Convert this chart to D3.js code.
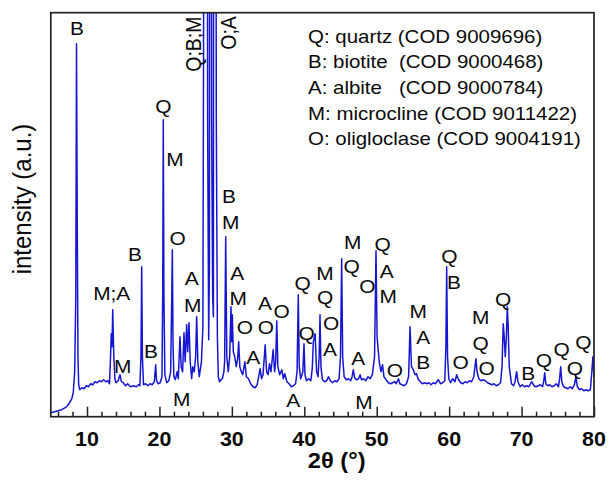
<!DOCTYPE html>
<html lang="en">
    <head>
        <meta charset="utf-8">
        <title>XRD pattern</title>
        <script type="text/javascript" src="https://cdn.jsdelivr.net/npm/d3@7"></script>
        <style type="text/css">
            body { margin: 0; background: #fff; }
            text { font-family: "Liberation Sans", Arial, sans-serif; fill: #0a0a0a; white-space: pre; }
        </style>
    </head>

    <body>
        <script type="text/javascript">
            // Diffraction pattern, [2theta, intensity]
            var xrdPattern = [
                [5.0,4],[5.5,5],[6.0,6],[6.5,7],[7.0,9],[7.3,11],[7.6,14],[7.9,18],[8.1,24],[8.3,45],
                [8.45,120],[8.55,373],[8.65,200],[8.75,60],[8.85,32],[9.0,27],[9.3,29],[9.6,28],[9.9,31],[10.2,30],
                [10.5,33],[10.8,32],[11.1,35],[11.4,34],[11.7,36],[12.0,35],[12.3,37],[12.6,35],[12.9,36],[13.1,33],
                [13.25,60],[13.35,83],[13.45,70],[13.55,107],[13.7,60],[13.85,38],[14.0,34],[14.3,36],[14.55,42],[14.75,35],
                [15.0,34],[15.3,31],[15.6,33],[16.0,30],[16.4,31],[16.8,30],[17.1,32],[17.3,31],[17.45,60],[17.55,150],
                [17.65,60],[17.8,32],[18.1,33],[18.4,31],[18.7,33],[19.0,32],[19.3,35],[19.48,52],[19.6,36],[19.8,33],
                [20.1,34],[20.35,40],[20.45,120],[20.53,297],[20.62,120],[20.75,42],[21.0,34],[21.3,36],[21.55,45],[21.7,120],
                [21.78,167],[21.88,70],[22.0,40],[22.2,37],[22.45,45],[22.6,38],[22.84,80],[23.0,50],[23.2,45],[23.39,84],
                [23.55,55],[23.76,92],[23.9,65],[24.08,94],[24.25,55],[24.45,38],[24.6,50],[24.8,45],[25.0,60],[25.14,100],
                [25.3,55],[25.5,40],[25.8,55],[26.0,90],[26.1,400],[26.2,2000],[26.3,600],[26.4,2000],[26.5,2000],[26.65,300],[26.8,77],
                [26.9,150],[27.0,1500],[27.08,700],[27.15,1500],[27.2,303],[27.35,120],[27.45,100],[27.55,1500],[27.62,800],[27.7,1200],[27.85,300],[28.0,80],
                [28.13,40],[28.3,35],[28.5,37],[28.7,38],[28.9,45],[29.0,55],[29.15,180],[29.3,60],[29.5,45],[29.7,60],
                [29.88,110],[29.98,75],[30.06,102],[30.2,65],[30.4,60],[30.6,50],[30.8,58],[30.94,75],[31.1,50],[31.3,45],
                [31.5,42],[31.8,55],[32.0,40],[32.3,38],[32.6,33],[32.9,30],[33.2,29],[33.5,32],[33.9,48],[34.1,38],
                [34.3,42],[34.6,72],[34.8,45],[35.0,42],[35.2,53],[35.4,45],[35.7,67],[35.9,45],[36.05,55],[36.2,96],
                [36.35,50],[36.6,42],[36.9,47],[37.1,38],[37.3,43],[37.6,35],[37.9,33],[38.2,30],[38.5,31],[38.8,33],
                [39.0,45],[39.17,122],[39.3,50],[39.5,38],[39.8,45],[39.96,73],[40.1,42],[40.3,36],[40.6,38],[40.9,36],
                [41.1,48],[41.25,75],[41.5,83],[41.7,45],[41.9,40],[42.05,60],[42.17,102],[42.3,50],[42.5,37],[42.8,35],
                [43.1,36],[43.33,40],[43.6,36],[43.9,34],[44.2,36],[44.5,35],[44.8,38],[45.0,60],[45.16,158],[45.3,60],
                [45.5,40],[45.8,37],[46.1,38],[46.4,36],[46.6,40],[46.77,47],[46.95,39],[47.2,37],[47.5,38],[47.7,42],
                [47.9,37],[48.2,38],[48.5,36],[48.8,40],[49.1,38],[49.4,42],[49.7,60],[49.9,166],[50.05,80],[50.2,67],
                [50.4,52],[50.6,45],[50.8,52],[51.0,40],[51.3,37],[51.6,34],[51.9,33],[52.2,34],[52.5,35],[52.7,33],
                [53.0,38],[53.2,33],[53.5,32],[53.8,31],[54.1,33],[54.4,40],[54.6,90],[54.8,50],[55.05,47],[55.3,42],
                [55.5,43],[55.7,38],[56.0,35],[56.3,33],[56.6,34],[56.9,33],[57.2,34],[57.5,32],[57.8,34],[58.1,33],
                [58.5,37],[58.8,33],[59.1,34],[59.4,36],[59.55,70],[59.66,150],[59.78,60],[59.95,38],[60.2,34],[60.5,38],
                [60.8,35],[61.04,42],[61.3,37],[61.6,34],[61.9,33],[62.2,35],[62.5,34],[62.8,36],[63.1,35],[63.4,40],
                [63.7,58],[63.85,45],[64.1,38],[64.4,36],[64.7,37],[65.0,36],[65.3,34],[65.6,33],[65.9,32],[66.2,33],
                [66.5,31],[66.8,32],[67.1,34],[67.3,50],[67.47,93],[67.6,80],[67.75,60],[67.9,80],[68.03,110],[68.15,90],
                [68.3,50],[68.6,33],[68.9,31],[69.1,35],[69.32,45],[69.5,35],[69.8,30],[70.1,32],[70.4,30],[70.7,31],
                [71.0,30],[71.4,35],[71.7,31],[72.0,30],[72.3,31],[72.6,32],[72.9,30],[73.05,35],[73.2,44],[73.35,33],
                [73.6,31],[73.9,32],[74.2,30],[74.5,31],[74.8,33],[75.1,30],[75.25,38],[75.4,50],[75.55,35],[75.8,30],
                [76.1,29],[76.4,28],[76.7,30],[77.0,28],[77.3,32],[77.5,40],[77.7,30],[78.0,27],[78.3,28],[78.6,26],
                [78.9,27],[79.2,26],[79.5,27],[79.7,45],[79.85,60],[80.0,40]
            ];

            // Phase letters: [text, 2theta, intensity at baseline]
            var peakLabels = [
                ["B", 8.62, 382], ["Q", 20.53, 304], ["M", 22.15, 251], ["O", 22.52, 172],
                ["B", 16.63, 156], ["M;A", 13.41, 117], ["M", 14.93, 44], ["B", 18.83, 59],
                ["A", 24.45, 132], ["M", 24.59, 105], ["M", 23.07, 11], ["B", 29.6, 214],
                ["M", 29.84, 188], ["A", 30.75, 137], ["M", 30.89, 112], ["O", 31.81, 83],
                ["A", 32.96, 53], ["A", 34.57, 107], ["O", 34.71, 83], ["O", 36.88, 99],
                ["A", 38.48, 10], ["Q", 39.78, 127], ["Q", 40.33, 77], ["M", 42.86, 137],
                ["Q", 42.86, 113], ["O", 43.69, 87], ["A", 43.55, 61], ["M", 46.68, 168],
                ["Q", 46.54, 144], ["A", 47.46, 52], ["O", 48.7, 124], ["M", 48.24, 8],
                ["Q", 50.82, 166], ["A", 51.37, 139], ["M", 51.6, 114], ["O", 52.52, 40],
                ["M", 55.74, 99], ["A", 56.43, 73], ["B", 56.43, 48], ["Q", 60.02, 154],
                ["B", 60.67, 128], ["O", 61.59, 48], ["M", 64.35, 93], ["Q", 64.35, 67],
                ["O", 65.18, 42], ["Q", 67.47, 111], ["B", 70.93, 37], ["Q", 73.09, 50],
                ["Q", 75.54, 61], ["Q", 77.37, 42], ["Q", 78.52, 68]
            ];
            // Vertical labels next to the main peaks: [text, 2theta of baseline, intensity at start]
            var verticalLabels = [["Q;B;M", 25.74, 345], ["O;A", 30.57, 367]];

            var phaseLegend = [
                "Q: quartz (COD 9009696)",
                "B: biotite  (COD 9000468)",
                "A: albite   (COD 9000784)",
                "M: microcline (COD 9011422)",
                "O: oligloclase (COD 9004191)"
            ];

            var xMajorTicks = [10, 20, 30, 40, 50, 60, 70, 80];
            var xMinorTicks = [6, 8, 12, 14, 16, 18, 22, 24, 26, 28, 32, 34, 36, 38, 42, 44, 46, 48,
                               52, 54, 56, 58, 62, 64, 66, 68, 72, 74, 76, 78];

            var w = 609;
            var h = 481;
            var plotLeft = 50.8, plotRight = 594, plotTop = 12.7, plotBottom = 416.7;
            var sx = 1.1; // picture is a bit wider than tall, text too

            var svg = d3.select("body")
                        .append("svg")
                        .attr("width", w)
                        .attr("height", h);

            var xScale = d3.scaleLinear().domain([5, 80]).range([plotLeft, plotRight]);
            var yScale = d3.scaleLinear().domain([0, 404]).range([plotBottom, plotTop]);

            svg.append("clipPath")
                .attr("id", "plotclip")
                .append("rect")
                .attr("x", plotLeft)
                .attr("y", plotTop)
                .attr("width", plotRight - plotLeft)
                .attr("height", plotBottom - plotTop);

            // the pattern
            var line = d3.line()
                        .x(function(d) { return xScale(d[0]); })
                        .y(function(d) { return yScale(d[1]); });

            svg.append("path")
                .datum(xrdPattern)
                .attr("clip-path", "url(#plotclip)")
                .attr("fill", "none")
                .attr("stroke", "#1616d2")
                .attr("stroke-width", 1.5)
                .attr("stroke-linejoin", "round")
                .attr("d", line);

            // inward ticks
            svg.append("g")
                .attr("transform", "translate(0," + plotBottom + ")")
                .call(d3.axisBottom(xScale).tickValues(xMajorTicks).tickSize(-10).tickFormat(""))
                .call(function(g) { g.select(".domain").remove(); })
                .selectAll("line").attr("stroke", "#222").attr("stroke-width", 1.5);
            svg.append("g")
                .attr("transform", "translate(0," + plotBottom + ")")
                .call(d3.axisBottom(xScale).tickValues(xMinorTicks).tickSize(-5).tickFormat(""))
                .call(function(g) { g.select(".domain").remove(); })
                .selectAll("line").attr("stroke", "#222").attr("stroke-width", 1.5);

            // frame
            svg.append("rect")
                .attr("x", plotLeft)
                .attr("y", plotTop)
                .attr("width", plotRight - plotLeft)
                .attr("height", plotBottom - plotTop)
                .attr("fill", "none")
                .attr("stroke", "#222")
                .attr("stroke-width", 1.7);

            function addText(x, y, str, size, anchor, weight, rot) {
                return svg.append("text")
                    .attr("transform", "translate(" + x + "," + y + ") scale(" + sx + ",1)" + (rot ? " rotate(" + rot + ")" : ""))
                    .attr("text-anchor", anchor)
                    .attr("font-size", size + "px")
                    .attr("font-weight", weight || "normal")
                    .text(str);
            }

            // tick labels
            xMajorTicks.forEach(function(t) {
                addText(xScale(t), 446, String(t), 19.5, "middle", "bold");
            });

            addText(336.7, 468, "2\u03b8 (\u00b0)", 21.5, "middle", "bold");
            addText(31, 199, "intensity (a.u.)", 24, "middle", "normal", -90);

            // phase letters
            peakLabels.forEach(function(d) {
                addText(xScale(d[1]), yScale(d[2]), d[0], 19, "middle");
            });
            verticalLabels.forEach(function(d) {
                addText(xScale(d[1]), yScale(d[2]), d[0], 19.5, "start", "normal", -90);
            });

            // legend
            phaseLegend.forEach(function(s, i) {
                addText(308, 42.7 + i * 25.6, s, 18.6, "start");
            });
        </script>
    </body>
</html>
